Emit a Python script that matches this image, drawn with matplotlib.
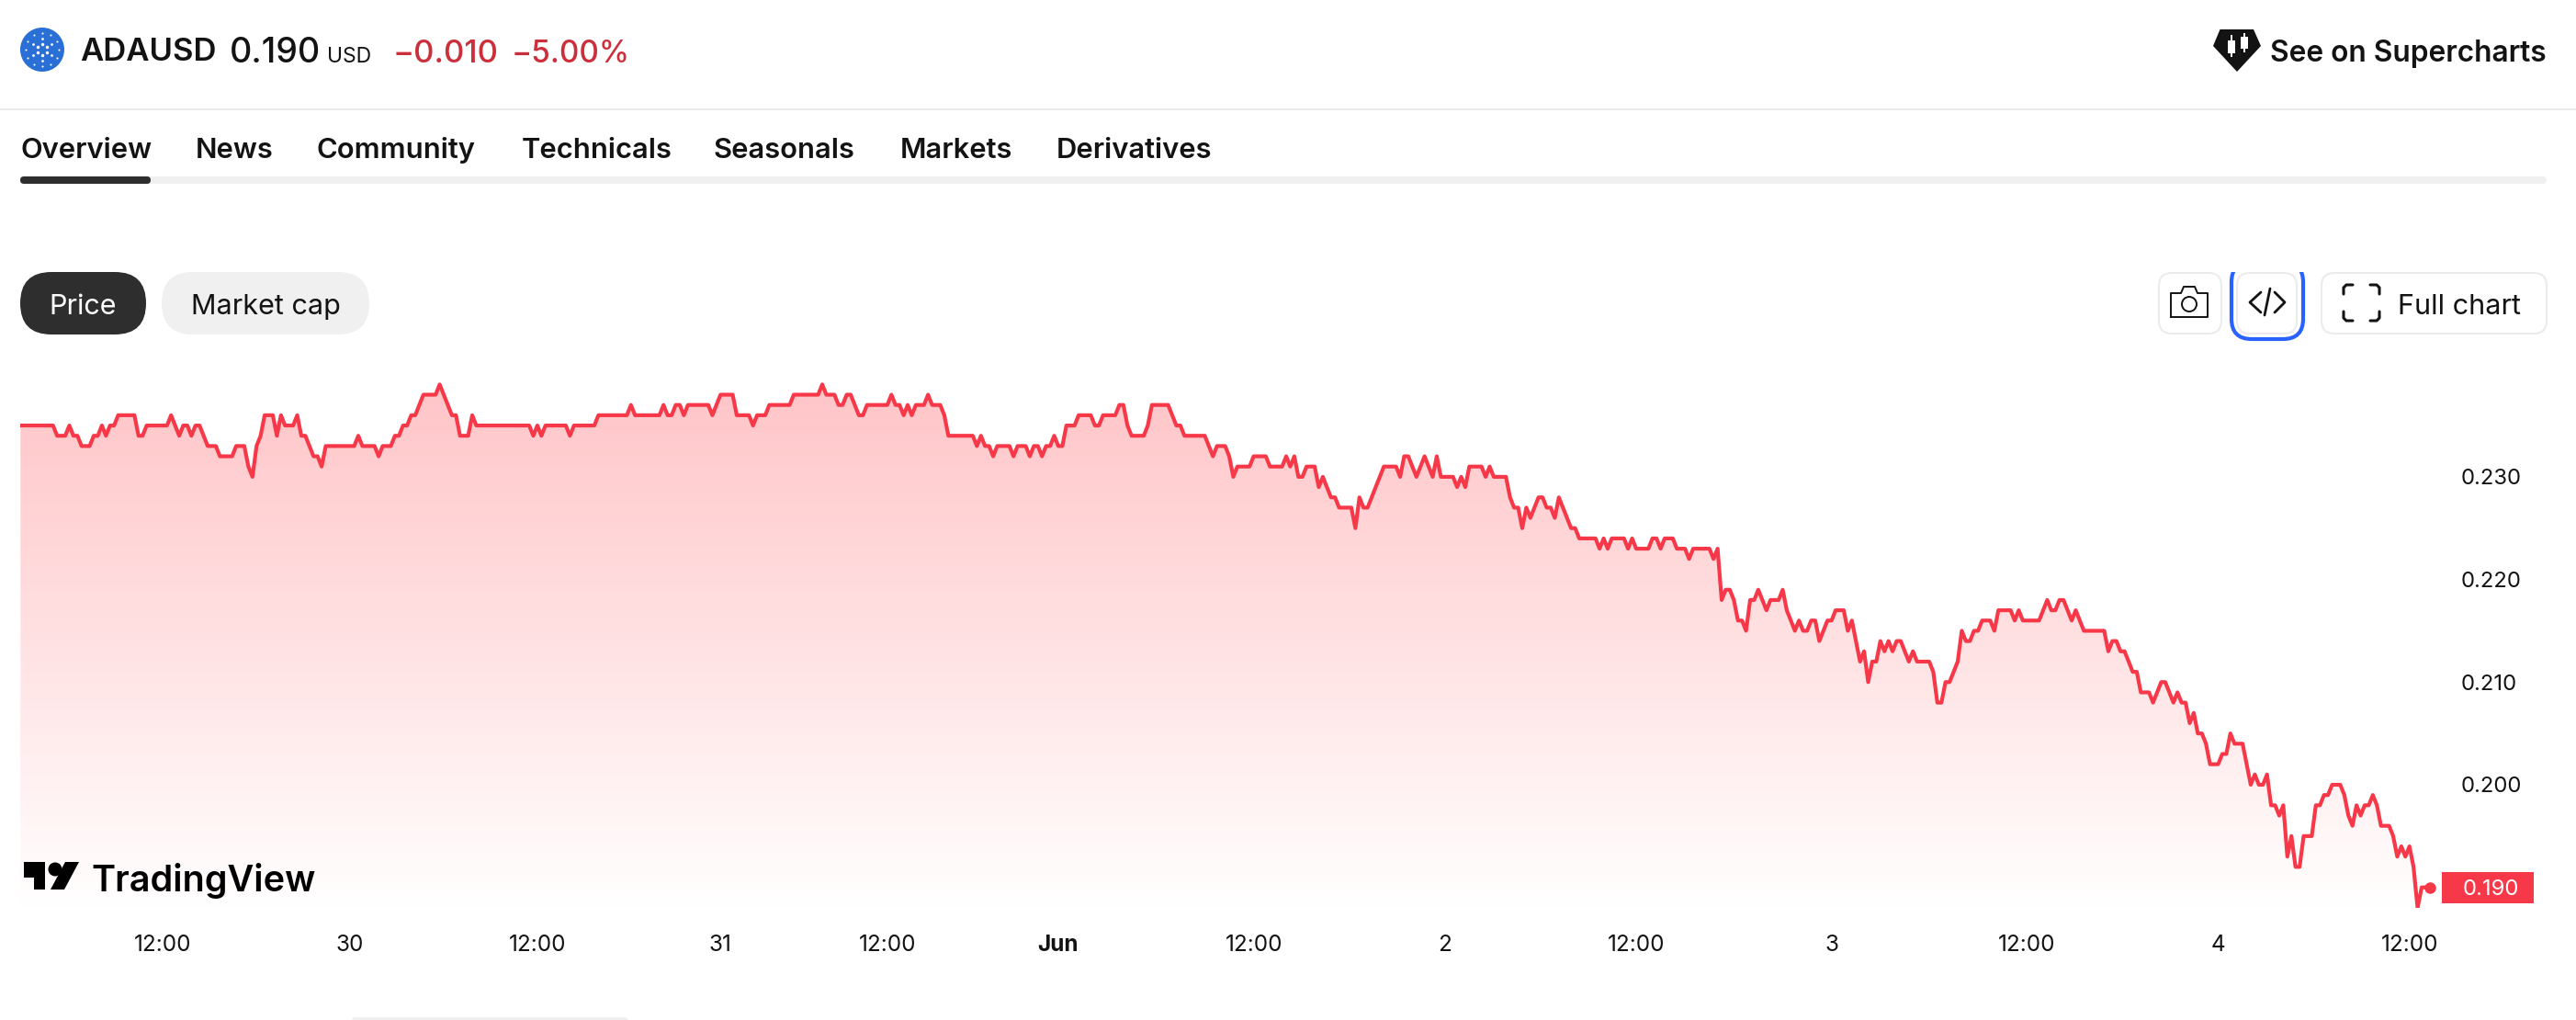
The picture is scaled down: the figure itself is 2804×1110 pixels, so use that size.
import numpy as np
import matplotlib
matplotlib.use('Agg')
import matplotlib.pyplot as plt
from matplotlib.colors import LinearSegmentedColormap
from matplotlib.patches import Circle, FancyBboxPatch, Polygon, Rectangle
from matplotlib.transforms import blended_transform_factory

plt.rcParams['font.family'] = ['Inter', 'DejaVu Sans']

W, H = 2804, 1110

# price per sample, in thousandths of a dollar
price_milli = [
    235, 235, 235, 235, 235, 235, 235, 235, 235,
    234, 234, 234, 235, 234, 234, 233, 233, 233, 234, 234, 235, 234, 235, 235,
    236, 236, 236, 236, 236, 234, 234,
    235, 235, 235, 235, 235, 235, 236, 235, 234, 235, 235, 234, 235, 235, 234,
    233, 233, 233, 232, 232, 232, 232, 233, 233, 233, 231, 230, 233, 234,
    236, 236, 236, 234, 236, 235, 235, 235, 236, 234, 234, 233, 232, 232, 231,
    233, 233, 233, 233, 233, 233, 233, 233,
    234, 233, 233, 233, 233, 232, 233, 233, 233, 234, 234, 235, 235, 236, 236, 237,
    238, 238, 238, 238, 239, 238, 237, 236, 236, 234, 234, 234, 236,
    235, 235, 235, 235, 235, 235, 235, 235, 235, 235, 235, 235, 235, 235,
    234, 235, 234, 235, 235, 235, 235, 235, 235, 234, 235, 235, 235, 235, 235, 235,
    236, 236, 236, 236, 236, 236, 236, 236, 237,
    236, 236, 236, 236, 236, 236, 236,
    237, 236, 236, 237, 237, 236, 237, 237, 237, 237, 237, 237, 236, 237,
    238, 238, 238, 238, 236, 236, 236, 236, 235, 236, 236, 236,
    237, 237, 237, 237, 237, 237, 238, 238, 238, 238, 238, 238, 238, 239,
    238, 238, 238, 237, 237, 238, 238, 237, 236, 236,
    237, 237, 237, 237, 237, 237, 238, 237, 237, 236, 237, 236, 237, 237, 237, 238,
    237, 237, 237, 236,
    234, 234, 234, 234, 234, 234, 234, 233, 234, 233, 233, 232,
    233, 233, 233, 233, 232, 233, 233, 233, 232, 233, 233, 232, 233, 233, 234, 233, 233,
    235, 235, 235, 236, 236, 236, 236, 235, 235, 236, 236, 236, 236, 237, 237, 235,
    234, 234, 234, 234, 235, 237, 237, 237, 237, 237, 236, 235, 235,
    234, 234, 234, 234, 234, 234, 233, 232, 233, 233, 233, 232, 230,
    231, 231, 231, 231, 232, 232, 232, 232, 231, 231, 231, 231,
    232, 231, 232, 230, 230, 231, 231, 231, 229, 230, 229, 228, 228,
    227, 227, 227, 227, 225, 228, 227, 227, 228, 229, 230,
    231, 231, 231, 231, 230, 232, 232, 231, 230, 231, 232, 231, 230, 232,
    230, 230, 230, 230, 229, 230, 229, 231, 231, 231, 231, 230, 231,
    230, 230, 230, 230, 228, 227, 227, 225, 227, 226, 227, 228, 228, 227, 227,
    226, 228, 227, 226, 225, 225, 224, 224, 224, 224, 224, 223, 224, 223,
    224, 224, 224, 224, 223, 224, 223, 223, 223, 223, 224, 224, 223,
    224, 224, 224, 223, 223, 223, 222, 223, 223, 223, 223, 223, 222, 223,
    218, 219, 219, 218, 216, 216, 215, 218, 218, 219, 218, 217, 218, 218, 218, 219,
    217, 216, 215, 216, 215, 215, 216, 216, 214, 215, 216, 216, 217, 217, 217,
    215, 216, 214, 212, 213, 210, 212, 212, 214, 213, 214, 213, 214, 214, 213, 212,
    213, 212, 212, 212, 212, 211, 208, 208, 210, 210, 211, 212, 215, 214, 214,
    215, 215, 216, 216, 216, 215, 217, 217, 217, 217, 216, 217,
    216, 216, 216, 216, 216, 217, 218, 217, 217, 218, 218, 217, 216, 217, 216,
    215, 215, 215, 215, 215, 215, 213, 214, 214, 213, 213, 212, 211, 211,
    209, 209, 209, 208, 209, 210, 210, 209, 208, 209, 208, 208, 206, 207,
    205, 205, 204, 202, 202, 202, 203, 203, 205, 204, 204, 204, 202, 200,
    201, 200, 200, 201, 198, 198, 197, 198, 193, 195, 192, 192, 195, 195, 195,
    198, 198, 199, 199, 200, 200, 200, 199, 197, 196, 198, 197, 198, 198, 199, 198,
    196, 196, 196, 195, 193, 194, 193, 194, 192, 188, 190, 190, 190,
]

# sample number of each time label
tick_pos = [35, 81, 127, 172, 213, 255, 303, 350, 397, 445, 493, 540, 587]
tick_labels = ['12:00', '30', '12:00', '31', '12:00', 'Jun', '12:00', '2', '12:00', '3', '12:00', '4', '12:00']
price_ticks = [0.200, 0.210, 0.220, 0.230]

tabs = ['Overview', 'News', 'Community', 'Technicals', 'Seasonals', 'Markets', 'Derivatives']
tabs_x = [22, 213, 345, 568, 777, 980, 1150]

RED = '#F73849'
DARK = '#131313'

price = np.array(price_milli) / 1000
x = np.arange(len(price))

fig = plt.figure(figsize=(W / 100, H / 100), dpi=100, facecolor='white')

# price chart, placed so one sample is about 4.43 px
left, right, top, bottom = 22.3, 2672, 400, 988
ax = fig.add_axes([left / W, 1 - bottom / H, (right - left) / W, (bottom - top) / H])
xmax = (right - left) / 4.43
ymin = 0.190 + (965.7 - bottom) / 11170
ymax = 0.190 + (965.7 - top) / 11170

cmap = LinearSegmentedColormap.from_list('fade', ['white', '#FFC3C6'])
grad = np.linspace(1, 0, 256).reshape(-1, 1)
im = ax.imshow(grad, extent=[0, xmax, ymin, ymax], aspect='auto', cmap=cmap, vmin=0, vmax=1, origin='upper')
fill = ax.fill_between(x, price, ymin, color='none')
im.set_clip_path(fill.get_paths()[0], transform=ax.transData)
ax.plot(x, price, color=RED, lw=3, solid_joinstyle='round', zorder=3)
ax.plot(x[-1], price[-1], 'o', color=RED, ms=9, mew=0, zorder=4)

ax.set_xlim(0, xmax)
ax.set_ylim(ymin, ymax)
for s in ax.spines.values():
    s.set_visible(False)
ax.set_xticks(tick_pos)
ax.set_xticklabels(tick_labels, fontsize=17.5, color=DARK)
ax.get_xticklabels()[5].set_fontweight('bold')
ax.yaxis.tick_right()
ax.set_yticks(price_ticks)
ax.set_yticklabels(['%.3f' % v for v in price_ticks], fontsize=17.2, color=DARK)
ax.tick_params(axis='x', length=0, pad=21)
ax.tick_params(axis='y', length=0, pad=5)

# page chrome, in pixels
ui = fig.add_axes([0, 0, 1, 1], facecolor='none')
ui.set_xlim(0, W)
ui.set_ylim(H, 0)
ui.axis('off')


def pill(x0, y0, x1, y1, r, fc='none', ec='none', lw=0, **kw):
    p = FancyBboxPatch((x0 + r, y0 + r), x1 - x0 - 2 * r, y1 - y0 - 2 * r,
                       boxstyle='round,pad=%f,rounding_size=%f' % (r, r),
                       fc=fc, ec=ec, lw=lw, **kw)
    ui.add_patch(p)
    return p


def seg(xs, ys, color=DARK, lw=1.6):
    ui.plot(xs, ys, color=color, lw=lw, solid_capstyle='round', solid_joinstyle='round')


# header
ui.add_patch(Circle((46, 54), 24, fc='#2A6FD6', ec='none'))
for r_dot, n_dot, sz in [(6, 6, 2.5), (12, 6, 2), (18, 12, 1.5)]:
    a = np.linspace(0, 2 * np.pi, n_dot, endpoint=False) + np.pi / 2
    ui.plot(46 + r_dot * np.cos(a), 54 + r_dot * np.sin(a), 'o', color='white', ms=sz, mew=0)
ui.text(87, 54, 'ADAUSD', fontsize=25, fontweight='semibold', color=DARK, va='center_baseline')
ui.text(250, 54, '0.190', fontsize=27, fontweight='medium', color=DARK, va='center_baseline')
ui.text(356, 60, 'USD', fontsize=16.5, color=DARK, va='center_baseline')
ui.text(428, 55, '\u22120.010', fontsize=25, fontweight='medium', color='#CC2F3C', va='center_baseline')
ui.text(557, 55, '\u22125.00%', fontsize=24, fontweight='medium', color='#CC2F3C', va='center_baseline')
ui.add_patch(Polygon([(2416.5, 32), (2453, 32), (2461, 50), (2435, 78), (2409, 50)], fc=DARK, ec='none'))
ui.add_patch(Rectangle((2425, 44), 8, 14, fc='white', ec='none'))
ui.add_patch(Rectangle((2428, 38), 2, 24, fc='white', ec='none'))
ui.add_patch(Rectangle((2439, 40), 8, 13, fc='white', ec='none'))
ui.add_patch(Rectangle((2442, 36), 2, 21, fc='white', ec='none'))
ui.text(2772, 55, 'See on Supercharts', fontsize=22.8, fontweight='semibold', color=DARK, ha='right', va='center_baseline')
ui.add_patch(Rectangle((0, 118), W, 2, fc='#EBEBEB', ec='none'))

# tabs
for name, tx in zip(tabs, tabs_x):
    ui.text(tx, 172, name, fontsize=22.3, fontweight='semibold', color=DARK, va='baseline')
pill(22, 192, 2772, 200, 4, fc='#F0F0F0')
pill(22, 192, 164, 200, 4, fc='#2E2E2E')

# Price / Market cap
pill(22, 296, 159, 364, 34, fc='#2E2E2E')
pill(176, 296, 402, 364, 34, fc='#F0F0F0')
ui.text(90.5, 331, 'Price', fontsize=22, color='white', ha='center', va='center_baseline')
ui.text(289, 331, 'Market cap', fontsize=22, color=DARK, ha='center', va='center_baseline')

# right hand buttons
pill(2350, 297, 2418, 363, 14, ec='#EBEBEB', lw=1.5, fc='white')
ring = pill(2429, 285, 2507, 369, 22, ec='#2962FF', lw=3, fc='white')
ring.set_clip_path(Rectangle((2400, 296), 140, 90, transform=ui.transData))
pill(2435, 297, 2500, 363, 14, ec='#EBEBEB', lw=1.5, fc='white')
pill(2527, 297, 2772, 363, 14, ec='#EBEBEB', lw=1.5, fc='white')

# camera
seg([2363, 2363, 2374, 2377, 2389, 2392, 2403, 2403, 2363], [345, 319, 319, 312, 312, 319, 319, 345, 345], lw=1.4)
ui.add_patch(Circle((2383, 331), 8, fc='none', ec=DARK, lw=1.4))
# </>
seg([2461, 2449, 2461], [318, 329, 340], lw=2)
seg([2471, 2465], [314, 343], lw=2)
seg([2476, 2487, 2476], [318, 329, 340], lw=2)
# full chart corners
seg([2551, 2551, 2554, 2561], [320, 313, 310, 310], lw=2.2)
seg([2580, 2587, 2590, 2590], [310, 310, 313, 320], lw=2.2)
seg([2551, 2551, 2554, 2561], [339, 346, 349, 349], lw=2.2)
seg([2580, 2587, 2590, 2590], [349, 349, 346, 339], lw=2.2)
ui.text(2610, 331, 'Full chart', fontsize=22, color=DARK, va='center_baseline')

# TradingView logo
ui.add_patch(Polygon([(26, 938), (49, 938), (49, 968), (37, 968), (37, 955), (26, 955)], fc='black', ec='none'))
ui.add_patch(Circle((60, 946), 7.5, fc='black', ec='none'))
ui.add_patch(Polygon([(71, 938), (86, 938), (70, 968), (55, 968)], fc='black', ec='none'))
ui.text(99, 954, 'TradingView', fontsize=28.5, fontweight='semibold', color='black', va='center_baseline')

# last price tag, follows the last value
tag = blended_transform_factory(ui.transData, ax.transData)
ui.add_patch(Rectangle((2658, price[-1] - 0.00152), 100, 0.00304, transform=tag, fc=RED, ec='none'))
ui.text(2711.6, price[-1], '%.3f' % price[-1], transform=tag, fontsize=17.2, color='white', ha='center', va='center_baseline')

# stub of the next panel at the bottom edge
pill(383, 1107, 684, 1116, 4, fc='#F0F0F0')

fig.savefig('out.png', dpi=100)
